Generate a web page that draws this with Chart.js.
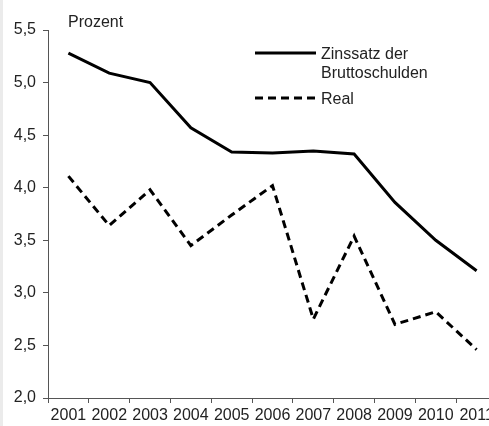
<!DOCTYPE html>
<html>
<head>
<meta charset="utf-8">
<script src="https://cdn.jsdelivr.net/npm/chart.js@4.4.1/dist/chart.umd.min.js"></script>
<style>
    body { margin: 0; background: #fff; overflow: hidden; }
    #wrap { position: relative; width: 500px; height: 426px; }
    #strip { position: absolute; left: 0; top: 0; width: 3px; height: 426px; background: #ebebeb; }
</style>
</head>
<body>
<div id="wrap">
    <canvas id="zinsChart" width="500" height="426"></canvas>
    <div id="strip"></div>
</div>
<script>
const jahre = ['2001', '2002', '2003', '2004', '2005', '2006', '2007', '2008', '2009', '2010', '2011'];
const zinssatz = [5.28, 5.09, 5.00, 4.57, 4.34, 4.33, 4.35, 4.32, 3.86, 3.50, 3.21];
const real = [4.11, 3.64, 3.98, 3.45, 3.74, 4.02, 2.75, 3.54, 2.70, 2.82, 2.46];
const serienNamen = [['Zinssatz der', 'Bruttoschulden'], ['Real']];
const einheit = 'Prozent';

const schrift = '"Liberation Sans", Arial, sans-serif';
const textFarbe = '#222';
const achsenFarbe = '#555';

// eigene Legende + Einheit oben links
const extraText = {
    id: 'extraText',
    afterDraw(chart) {
        const ctx = chart.ctx;
        ctx.save();
        ctx.font = '16px ' + schrift;
        ctx.fillStyle = textFarbe;
        ctx.textBaseline = 'alphabetic';
        ctx.textAlign = 'left';
        ctx.fillText(einheit, 68, 27);

        const zeilen = [53, 98];
        chart.data.datasets.forEach((ds, i) => {
            const y = zeilen[i];
            ctx.beginPath();
            ctx.strokeStyle = ds.borderColor;
            ctx.lineWidth = ds.borderWidth;
            ctx.setLineDash(ds.borderDash || []);
            ctx.moveTo(255, y);
            ctx.lineTo(316, y);
            ctx.stroke();
            ctx.setLineDash([]);
            serienNamen[i].forEach((t, j) => {
                ctx.fillText(t, 321, y + 6 + j * 18.5);
            });
        });
        ctx.restore();
    }
};

const ctx = document.getElementById('zinsChart').getContext('2d');
const myChart = new Chart(ctx, {
    type: 'line',
    data: {
        labels: jahre,
        datasets: [
            {
                label: 'Zinssatz der Bruttoschulden',
                data: zinssatz,
                borderColor: '#000',
                borderWidth: 3,
                pointRadius: 0,
                tension: 0,
                fill: false
            },
            {
                label: 'Real',
                data: real,
                borderColor: '#000',
                borderWidth: 3,
                borderDash: [8, 5],
                pointRadius: 0,
                tension: 0,
                fill: false
            }
        ]
    },
    options: {
        responsive: false,
        animation: false,
        layout: {
            padding: { top: 30, right: 3, left: 0, bottom: 0 }
        },
        plugins: {
            legend: { display: false },
            tooltip: { enabled: false }
        },
        scales: {
            x: {
                offset: true,
                grid: {
                    offset: true,
                    drawOnChartArea: false,
                    drawTicks: true,
                    tickLength: 5,
                    color: achsenFarbe
                },
                border: { color: achsenFarbe, width: 1 },
                ticks: {
                    autoSkip: false,
                    maxRotation: 0,
                    padding: 3,
                    color: textFarbe,
                    font: { family: schrift, size: 16 }
                },
                afterFit: (s) => { s.height = 28; }
            },
            y: {
                min: 2,
                max: 5.5,
                grid: {
                    drawOnChartArea: false,
                    drawTicks: true,
                    tickLength: 5,
                    color: achsenFarbe
                },
                border: { color: achsenFarbe, width: 1 },
                ticks: {
                    stepSize: 0.5,
                    padding: 7,
                    color: textFarbe,
                    font: { family: schrift, size: 16 },
                    callback: (v) => v.toFixed(1).replace('.', ',')
                },
                afterFit: (s) => { s.width = 48; }
            }
        }
    },
    plugins: [extraText]
});
</script>
</body>
</html>
